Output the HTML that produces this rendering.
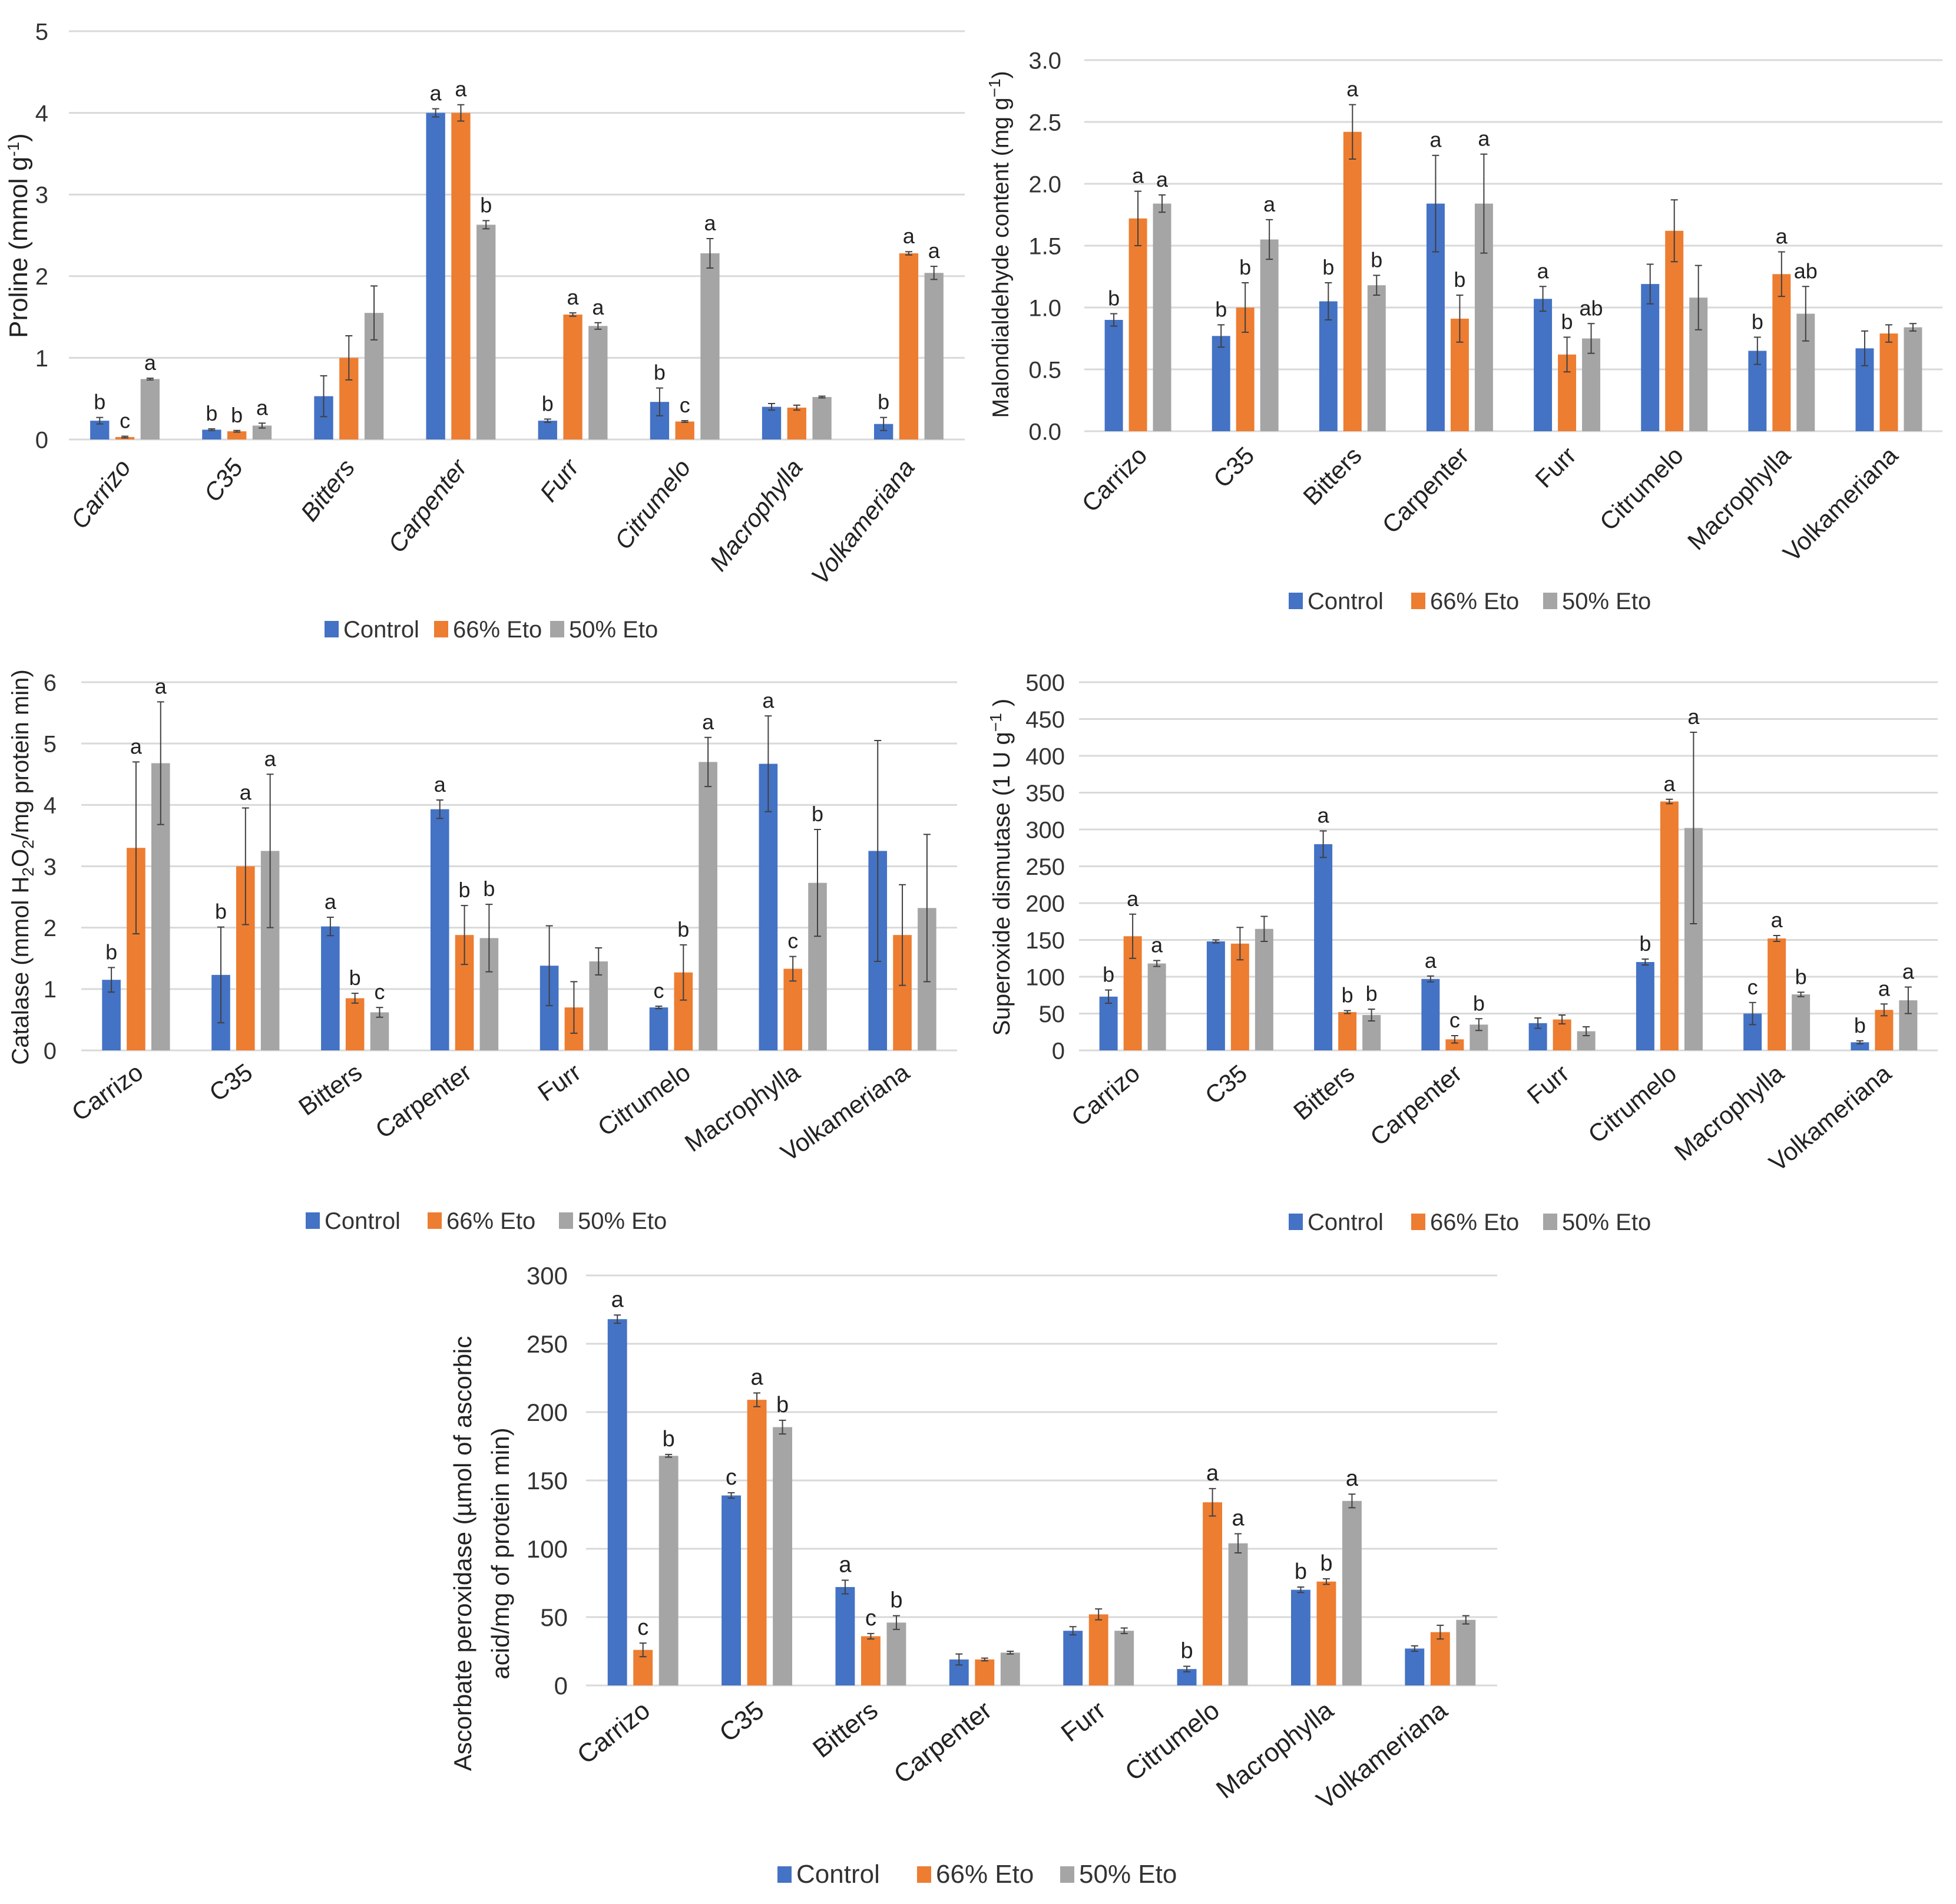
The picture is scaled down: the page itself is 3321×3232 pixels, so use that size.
<!DOCTYPE html>
<html><head><meta charset="utf-8"><style>
html,body{margin:0;padding:0;background:#fff;}
svg{display:block;font-family:"Liberation Sans",sans-serif;}
</style></head><body>
<svg id="fig" width="3321" height="3232" viewBox="0 0 3321 3232" xmlns="http://www.w3.org/2000/svg">
<rect x="0" y="0" width="3321" height="3232" fill="#fff"/>
</svg>
<script>
const categories = ['Carrizo','C35','Bitters','Carpenter','Furr','Citrumelo','Macrophylla','Volkameriana'];
const seriesNames = ['Control','66% Eto','50% Eto'];

const prolineTicks = [0,1,2,3,4,5];
const prolineControl = [0.23,0.12,0.53,4.0,0.23,0.46,0.40,0.19];
const prolineEto66 = [0.03,0.10,1.0,4.0,1.53,0.22,0.39,2.28];
const prolineEto50 = [0.74,0.17,1.55,2.63,1.39,2.28,0.52,2.04];
const prolineErrControl = [0.04,0.01,0.25,0.05,0.02,0.17,0.04,0.08];
const prolineErrEto66 = [0.01,0.01,0.27,0.10,0.02,0.01,0.03,0.02];
const prolineErrEto50 = [0.01,0.03,0.33,0.05,0.04,0.18,0.01,0.08];
const prolineLetControl = ['b','b','','a','b','b','','b'];
const prolineLetEto66 = ['c','b','','a','a','c','','a'];
const prolineLetEto50 = ['a','a','','b','a','a','','a'];

const mdaTicks = [0,0.5,1,1.5,2,2.5,3];
const mdaControl = [0.90,0.77,1.05,1.84,1.07,1.19,0.65,0.67];
const mdaEto66 = [1.72,1.00,2.42,0.91,0.62,1.62,1.27,0.79];
const mdaEto50 = [1.84,1.55,1.18,1.84,0.75,1.08,0.95,0.84];
const mdaErrControl = [0.05,0.09,0.15,0.39,0.10,0.16,0.11,0.14];
const mdaErrEto66 = [0.22,0.20,0.22,0.19,0.14,0.25,0.18,0.07];
const mdaErrEto50 = [0.07,0.16,0.08,0.40,0.12,0.26,0.22,0.03];
const mdaLetControl = ['b','b','b','a','a','','b',''];
const mdaLetEto66 = ['a','b','a','b','b','','a',''];
const mdaLetEto50 = ['a','a','b','a','ab','','ab',''];

const catTicks = [0,1,2,3,4,5,6];
const catControl = [1.15,1.23,2.02,3.93,1.38,0.70,4.67,3.25];
const catEto66 = [3.3,3.0,0.85,1.88,0.70,1.27,1.33,1.88];
const catEto50 = [4.68,3.25,0.62,1.83,1.45,4.70,2.73,2.32];
const catErrControl = [0.2,0.78,0.15,0.15,0.65,0.02,0.78,1.8];
const catErrEto66 = [1.4,0.95,0.08,0.48,0.42,0.45,0.2,0.82];
const catErrEto50 = [1.0,1.25,0.08,0.55,0.22,0.4,0.87,1.2];
const catLetControl = ['b','b','a','a','','c','a',''];
const catLetEto66 = ['a','a','b','b','','b','c',''];
const catLetEto50 = ['a','a','c','b','','a','b',''];

const sodTicks = [0,50,100,150,200,250,300,350,400,450,500];
const sodControl = [73,148,280,97,37,120,50,11];
const sodEto66 = [155,145,52,15,42,338,152,55];
const sodEto50 = [118,165,48,35,26,302,76,68];
const sodErrControl = [9,2,18,4,7,4,15,2];
const sodErrEto66 = [30,22,2,5,6,3,4,8];
const sodErrEto50 = [4,17,8,8,6,130,3,18];
const sodLetControl = ['b','','a','a','','b','c','b'];
const sodLetEto66 = ['a','','b','c','','a','a','a'];
const sodLetEto50 = ['a','','b','b','','a','b','a'];

const apxTicks = [0,50,100,150,200,250,300];
const apxControl = [268,139,72,19,40,12,70,27];
const apxEto66 = [26,209,36,19,52,134,76,39];
const apxEto50 = [168,189,46,24,40,104,135,48];
const apxErrControl = [3,2,5,4,3,2,2,2];
const apxErrEto66 = [5,5,2,1,4,10,2,5];
const apxErrEto50 = [1,5,5,1,2,7,5,3];
const apxLetControl = ['a','c','a','','','b','b',''];
const apxLetEto66 = ['c','a','c','','','a','b',''];
const apxLetEto50 = ['b','b','b','','','a','a',''];

const colors = ['#4472C4','#ED7D31','#A5A5A5'];
const NS = 'http://www.w3.org/2000/svg';
const svg = document.getElementById('fig');
function mk(tag, attrs, parent, text){
  const e = document.createElementNS(NS, tag);
  for (const k in attrs) e.setAttribute(k, attrs[k]);
  if (text !== undefined) e.textContent = text;
  parent.appendChild(e);
  return e;
}

function drawChart(cfg){
  const g = mk('g', {}, svg);
  
  
  const max = cfg.ticks[cfg.ticks.length-1];
  const ys = v => cfg.y0 - v / max * (cfg.y0 - cfg.yTop);
  const cw = (cfg.right - cfg.left) / categories.length;
  const xs = i => cfg.left + (i + 0.5) * cw;
  cfg.ticks.forEach(t => {
    const ln = mk('line', {x1:cfg.left, x2:cfg.right, y1:ys(t), y2:ys(t), stroke:'#d9d9d9', 'stroke-width':3}, g);
    
    
    const tx = mk('text', {x:cfg.tickX, y:ys(t)+cfg.tickFs*0.36, 'text-anchor':'end', 'font-size':cfg.tickFs, fill:'#333'}, g, cfg.fmt(t));
    
    
  });
  const pitch = 0.225 * cw, bw = 0.17 * cw;
  cfg.series.forEach((vals, j) => {
    vals.forEach((v, i) => {
      const cx = xs(i) + (j - 1) * pitch;
      const r = mk('rect', {x:cx - bw/2, y:ys(v), width:bw, height:cfg.y0 - ys(v), fill:colors[j]}, g);
      
      
      const e = cfg.errs[j][i];
      const top = ys(v + e), bot = ys(Math.max(0, v - e));
      const eg = mk('path', {d:`M${cx},${top}V${bot}M${cx-6},${top}H${cx+6}M${cx-6},${bot}H${cx+6}`, stroke:'#404040', 'stroke-width':2, fill:'none'}, g);
      
      
      const l = cfg.letters[j][i];
      if (l) {
        const lt = mk('text', {x:cx, y:top - 14, 'text-anchor':'middle', 'font-size':cfg.letFs, fill:'#222'}, g, l);
        
        
      }
    });
  });
  categories.forEach((c, i) => {
    const x = xs(i) + cfg.lblDx, y = cfg.y0 + cfg.lblDy;
    const t = mk('text', {x:x, y:y, 'text-anchor':'end', 'font-size':cfg.lblFs, 'font-style':cfg.italic ? 'italic' : 'normal', fill:'#222', transform:`rotate(${cfg.rot} ${x} ${y})`}, g, c);
    
    
  });
  const tt = mk('text', {x:0, y:0, 'text-anchor':'middle', 'font-size':cfg.titleFs, fill:'#222', transform:`translate(${cfg.titleX} ${cfg.titleY}) rotate(-90)`}, g);
  
  
  tt.innerHTML = cfg.title;
  seriesNames.forEach((s, j) => {
    const lx = cfg.legX[j];
    const lg = mk('g', {}, g);
    
    
    mk('rect', {x:lx, y:cfg.legY - 14, width:24, height:28, fill:colors[j]}, lg);
    mk('text', {x:lx + 32, y:cfg.legY + 14, 'font-size':cfg.legFs, fill:'#333'}, lg, s);
  });
}

drawChart({name:'proline', left:117, right:1638, y0:746, yTop:53, ticks:prolineTicks, fmt:t=>String(t), tickX:82, tickFs:40,
  series:[prolineControl,prolineEto66,prolineEto50], errs:[prolineErrControl,prolineErrEto66,prolineErrEto50],
  letters:[prolineLetControl,prolineLetEto66,prolineLetEto50], letFs:36,
  lblDx:12, lblDy:48, rot:-52, lblFs:42, italic:true,
  title:'Proline (mmol g<tspan dy="-14" font-size="28">-1</tspan><tspan dy="14">)</tspan>', titleX:46, titleY:400, titleFs:44,
  legX:[551,737,934], legY:1068, legFs:40});

drawChart({name:'malondialdehyde', left:1841, right:3298, y0:732, yTop:102, ticks:mdaTicks, fmt:t=>t.toFixed(1), tickX:1802, tickFs:40,
  series:[mdaControl,mdaEto66,mdaEto50], errs:[mdaErrControl,mdaErrEto66,mdaErrEto50],
  letters:[mdaLetControl,mdaLetEto66,mdaLetEto50], letFs:36,
  lblDx:18, lblDy:44, rot:-45, lblFs:42, italic:false,
  title:'Malondialdehyde content (mg g<tspan dy="-14" font-size="28">−1</tspan><tspan dy="14">)</tspan>', titleX:1712, titleY:415, titleFs:39,
  legX:[2188,2396,2620], legY:1020, legFs:40});

drawChart({name:'catalase', left:138, right:1625, y0:1783, yTop:1158, ticks:catTicks, fmt:t=>String(t), tickX:96, tickFs:40,
  series:[catControl,catEto66,catEto50], errs:[catErrControl,catErrEto66,catErrEto50],
  letters:[catLetControl,catLetEto66,catLetEto50], letFs:36,
  lblDx:15, lblDy:44, rot:-35, lblFs:42, italic:false,
  title:'Catalase (mmol H<tspan dy="9" font-size="28">2</tspan><tspan dy="-9">O</tspan><tspan dy="9" font-size="28">2</tspan><tspan dy="-9">/mg protein min)</tspan>', titleX:48, titleY:1472, titleFs:40,
  legX:[519,726,949], legY:2072, legFs:40});

drawChart({name:'superoxide-dismutase', left:1832, right:3290, y0:1783, yTop:1158, ticks:sodTicks, fmt:t=>String(t), tickX:1808, tickFs:40,
  series:[sodControl,sodEto66,sodEto50], errs:[sodErrControl,sodErrEto66,sodErrEto50],
  letters:[sodLetControl,sodLetEto66,sodLetEto50], letFs:36,
  lblDx:15, lblDy:44, rot:-40, lblFs:42, italic:false,
  title:'Superoxide dismutase (1 U g<tspan dy="-14" font-size="28">−1</tspan><tspan dy="14"> )</tspan>', titleX:1714, titleY:1472, titleFs:40,
  legX:[2188,2396,2620], legY:2074, legFs:40});

drawChart({name:'ascorbate-peroxidase', left:995, right:2542, y0:2861, yTop:2165, ticks:apxTicks, fmt:t=>String(t), tickX:964, tickFs:42,
  series:[apxControl,apxEto66,apxEto50], errs:[apxErrControl,apxErrEto66,apxErrEto50],
  letters:[apxLetControl,apxLetEto66,apxLetEto50], letFs:38,
  lblDx:15, lblDy:48, rot:-38, lblFs:44, italic:false,
  title:'<tspan x="0" dy="-30">Ascorbate peroxidase (µmol of ascorbic</tspan><tspan x="0" dy="64">acid/mg of protein min)</tspan>', titleX:830, titleY:2637, titleFs:42,
  legX:[1320,1557,1800], legY:3182, legFs:44});
</script>
</body></html>
